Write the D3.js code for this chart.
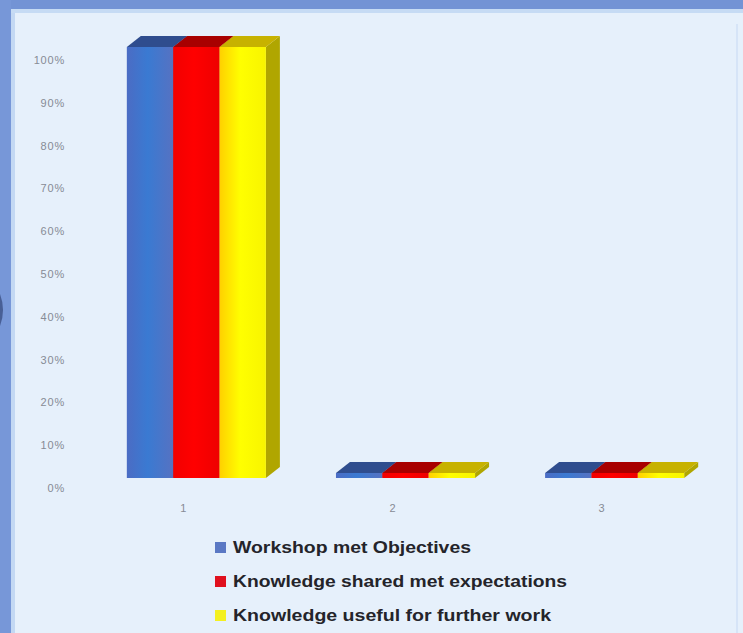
<!DOCTYPE html>
<html>
<head>
<meta charset="utf-8">
<script src="https://cdn.jsdelivr.net/npm/d3@7"></script>
<style>
  html, body { margin: 0; padding: 0; background: #e6f0fb; }
  svg { display: block; }
</style>
</head>
<body>
<svg id="chart" width="743" height="633"></svg>
<script>
// ---- data ----
const categories = ["1", "2", "3"];
const seriesNames = [
  "Workshop met Objectives",
  "Knowledge shared met expectations",
  "Knowledge useful for further work"
];
const objectivesValues = [1.0, 0, 0];
const expectationsValues = [1.0, 0, 0];
const usefulValues = [1.0, 0, 0];
const tickValues = [0, 0.1, 0.2, 0.3, 0.4, 0.5, 0.6, 0.7, 0.8, 0.9, 1.0];
const tickLabels = ["0%", "10%", "20%", "30%", "40%", "50%", "60%", "70%", "80%", "90%", "100%"];

const seriesValues = [objectivesValues, expectationsValues, usefulValues];
const seriesColors = [
  { front: ["#4b6cc4", "#3a7ad2", "#5672c2"], top: "#2f4d8e", side: "#33508f", key: "#5a78c4" },
  { front: ["#f20000", "#ff0000", "#ee0000"], top: "#a80000", side: "#b00000", key: "#e0101e" },
  { front: ["#ffd000", "#ffff00", "#f8f400"], top: "#c7b200", side: "#b0a600", key: "#f4f020" }
];
const legendWidths = [238, 334, 318];

const svg = d3.select("#chart");
const W = 743, H = 633;

// background & frame
svg.append("rect").attr("width", W).attr("height", H).attr("fill", "#e6f0fb");
svg.append("rect").attr("x", 0).attr("y", 0).attr("width", W).attr("height", 9).attr("fill", "#7393d5");
svg.append("rect").attr("x", 0).attr("y", 9).attr("width", W).attr("height", 4).attr("fill", "#c6dbf4");
svg.append("rect").attr("x", 0).attr("y", 0).attr("width", 11).attr("height", H).attr("fill", "#7797d8");
svg.append("rect").attr("x", 11).attr("y", 13).attr("width", 4).attr("height", H).attr("fill", "#c3d8f3");
svg.append("rect").attr("x", 736).attr("y", 24).attr("width", 2).attr("height", H).attr("fill", "#d6e4f7");
svg.append("path").attr("d", "M0,294 Q6,310 0,326 Z").attr("fill", "#34477a").attr("opacity", 0.7);

// gradients
const defs = svg.append("defs");
seriesColors.forEach((c, i) => {
  const g = defs.append("linearGradient").attr("id", "g" + i)
    .attr("x1", "0").attr("x2", "1").attr("y1", "0").attr("y2", "0");
  g.append("stop").attr("offset", "0%").attr("stop-color", c.front[0]);
  g.append("stop").attr("offset", "45%").attr("stop-color", c.front[1]);
  g.append("stop").attr("offset", "100%").attr("stop-color", c.front[2]);
});

// scales
const x = d3.scaleBand().domain(categories).range([85, 726]).paddingInner(0.335).paddingOuter(0.2);
const xs = d3.scaleBand().domain(d3.range(seriesNames.length)).range([0, x.bandwidth()]);
const yBar = d3.scaleLinear().domain([0, 1]).range([478, 47]);   // front face
const yAxis = d3.scaleLinear().domain([0, 1]).range([488, 60]);  // back wall
const dx = 14, dy = 11, minH = 5;

// y axis
const ax = svg.append("g").attr("transform", "translate(65,0)")
  .call(d3.axisLeft(yAxis).tickValues(tickValues).tickSize(0).tickPadding(0)
    .tickFormat((d, i) => tickLabels[i]));
ax.select(".domain").remove();
ax.selectAll("text").attr("font-family", "Liberation Sans, Arial, sans-serif")
  .attr("font-size", 11).attr("letter-spacing", "0.8px").attr("fill", "#868b95");

// bars
const bars = svg.append("g");
categories.forEach((cat, ci) => {
  seriesValues.forEach((vals, si) => {
    const v = vals[ci];
    const x0 = x(cat) + xs(si), w = xs.bandwidth();
    const yb = yBar(0);
    const yt = Math.min(yBar(v), yb - minH);
    const c = seriesColors[si];
    const g = bars.append("g");
    g.append("path")
      .attr("d", `M${x0 + w},${yt} L${x0 + w + dx},${yt - dy} L${x0 + w + dx},${yb - dy} L${x0 + w},${yb} Z`)
      .attr("fill", c.side);
    g.append("rect").attr("x", x0).attr("y", yt).attr("width", w).attr("height", yb - yt)
      .attr("fill", `url(#g${si})`);
    g.append("path")
      .attr("d", `M${x0},${yt} L${x0 + dx},${yt - dy} L${x0 + w + dx},${yt - dy} L${x0 + w},${yt} Z`)
      .attr("fill", c.top);
  });
});

// category labels
svg.append("g").selectAll("text").data(categories).join("text")
  .attr("x", d => x(d) + x.bandwidth() / 2 - 13)
  .attr("y", 512)
  .attr("text-anchor", "middle")
  .attr("font-family", "Liberation Sans, Arial, sans-serif")
  .attr("font-size", 11).attr("fill", "#868b95")
  .text(d => d);

// legend
const legend = svg.append("g").attr("transform", "translate(215,547)");
const lg = legend.selectAll("g").data(seriesNames).join("g")
  .attr("transform", (d, i) => `translate(0,${i * 34})`);
lg.append("rect").attr("x", 0).attr("y", -5).attr("width", 11).attr("height", 11)
  .attr("fill", (d, i) => seriesColors[i].key);
lg.append("text").attr("x", 18).attr("y", 6)
  .attr("font-family", "Liberation Sans, Arial, sans-serif")
  .attr("font-weight", "bold").attr("font-size", 16).attr("fill", "#24242a")
  .attr("textLength", (d, i) => legendWidths[i])
  .attr("lengthAdjust", "spacingAndGlyphs")
  .text(d => d);
</script>
</body>
</html>
